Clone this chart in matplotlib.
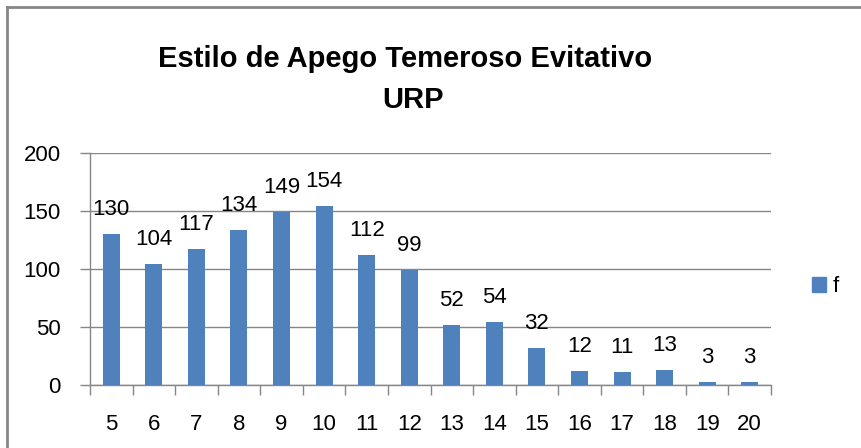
import matplotlib.pyplot as plt
import numpy as np
from matplotlib.lines import Line2D
from matplotlib.patches import Patch

plt.rcParams['font.family'] = ['Liberation Sans', 'DejaVu Sans']

categories = ['5', '6', '7', '8', '9', '10', '11', '12', '13', '14', '15', '16', '17', '18', '19', '20']
f_values = [130, 104, 117, 134, 149, 154, 112, 99, 52, 54, 32, 12, 11, 13, 3, 3]
y_ticks = [0, 50, 100, 150, 200]

bar_color = '#4F81BD'
grey = '#868686'

fig = plt.figure(figsize=(8.61, 4.48), dpi=100)
ax = fig.add_axes([90 / 861, 1 - 385 / 448, 681 / 861, 232 / 448])

x = np.arange(len(categories))
bars = ax.bar(x, f_values, width=0.4, color=bar_color, zorder=3)

for xi, v in zip(x, f_values):
    ax.annotate(str(v), (xi, v), xytext=(0, 10), textcoords='offset points',
                ha='center', va='bottom', fontsize=16, color='black')

ax.set_xlim(-0.5, len(categories) - 0.5)
ax.set_ylim(0, 200)
ax.set_yticks(y_ticks)
ax.set_xticks(x)
ax.set_xticklabels(categories)
ax.set_xticks(np.arange(-0.5, len(categories)), minor=True)
ax.tick_params(axis='x', which='major', length=0, pad=21, labelsize=16)
ax.tick_params(axis='x', which='minor', length=7, width=1, color=grey, direction='out')
ax.tick_params(axis='y', length=7, width=1, color=grey, pad=14, labelsize=16)

ax.grid(axis='y', color=grey, linewidth=1, zorder=0)
for s in ['top', 'right']:
    ax.spines[s].set_visible(False)
for s in ['left', 'bottom']:
    ax.spines[s].set_color(grey)
    ax.spines[s].set_linewidth(1)

fig.text(405 / 861, 1 - 67 / 448, 'Estilo de Apego Temeroso Evitativo', ha='center', va='baseline',
         fontsize=21, fontweight='bold')
fig.text(413 / 861, 1 - 108 / 448, 'URP', ha='center', va='baseline',
         fontsize=21, fontweight='bold')

handle = Patch(color=bar_color, label='f')
fig.legend(handles=[handle], loc='center left', bbox_to_anchor=(812 / 861, 1 - 287 / 448),
           frameon=False, fontsize=16, handlelength=0.65, handleheight=0.65,
           handletextpad=0.3, borderpad=0, borderaxespad=0)

# outer chart border (top and left edges visible)
fig.add_artist(Line2D([7 / 861, 7 / 861], [0, 1 - 7 / 448], color=grey, linewidth=2, transform=fig.transFigure))
fig.add_artist(Line2D([7 / 861, 1], [1 - 7 / 448, 1 - 7 / 448], color=grey, linewidth=2, transform=fig.transFigure))

fig.savefig('out.png', dpi=100)
